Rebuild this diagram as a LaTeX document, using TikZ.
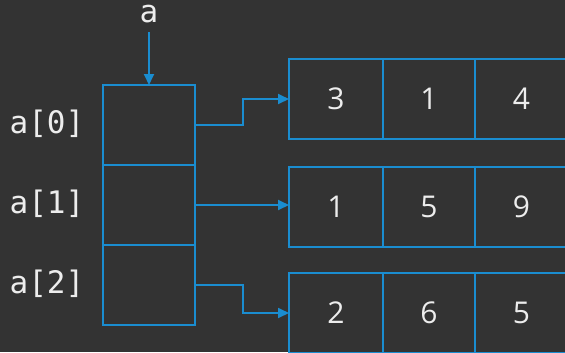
\documentclass[tikz,border=0pt]{standalone}
\usepackage{fontspec}
\setmainfont{Open Sans}
\newfontfamily\codefont{DejaVu Sans Mono}
\usetikzlibrary{arrows.meta}
\definecolor{bg}{HTML}{333333}
\definecolor{ln}{HTML}{1A8DD0}
\definecolor{tx}{HTML}{EDEDED}
\tikzset{
  boxbase/.style={draw=ln, line width=2bp, inner sep=0pt, outer sep=0pt, anchor=north west},
  cellbox/.style={boxbase, minimum width=93bp, minimum height=80bp, text=tx, font=\fontsize{30bp}{32bp}\selectfont},
  ptrbox/.style={boxbase, minimum width=92bp, minimum height=80bp},
  lbl/.style={text=tx, font=\codefont\fontsize{31bp}{33bp}\selectfont, inner sep=0pt},
  conn/.style={draw=ln, line width=1.8bp, -{Triangle[length=11bp,width=10bp]}}
}
\begin{document}
\begin{tikzpicture}[x=1bp,y=-1bp]
\fill[bg] (0,0) rectangle (565,352);
\useasboundingbox (0,0) rectangle (565,352);
% pointer column
\node[ptrbox] (p0) at (103,85) {};
\node[ptrbox] (p1) at (103,165) {};
\node[ptrbox] (p2) at (103,245) {};
% labels
\node[lbl] (la) at (149,14) {a};
\node[lbl] (l0) at (47,124) {a[0]};
\node[lbl] (l1) at (47,204) {a[1]};
\node[lbl] (l2) at (47,284) {a[2]};
% arrays
\node[cellbox, minimum width=94bp] (r00) at (289,59) {3};
\node[cellbox, minimum width=92bp] (r01) at (383,59) {1};
\node[cellbox] (r02) at (475,59) {4};
\node[cellbox, minimum width=94bp] (r10) at (289,167) {1};
\node[cellbox, minimum width=92bp] (r11) at (383,167) {5};
\node[cellbox] (r12) at (475,167) {9};
\node[cellbox, minimum width=94bp] (r20) at (289,273) {2};
\node[cellbox, minimum width=92bp] (r21) at (383,273) {6};
\node[cellbox] (r22) at (475,273) {5};
% connectors
\coordinate (atop) at (149,32);
\draw[conn] (atop) -- (p0.north);
\draw[conn] (p0.east) -- (243,125) |- (r00.west |- 0,99);
\draw[conn] (p1.east) -- (r10.west |- p1.east);
\draw[conn] (p2.east) -- (243,285) |- (r20.west |- 0,313);
\end{tikzpicture}
\end{document}
